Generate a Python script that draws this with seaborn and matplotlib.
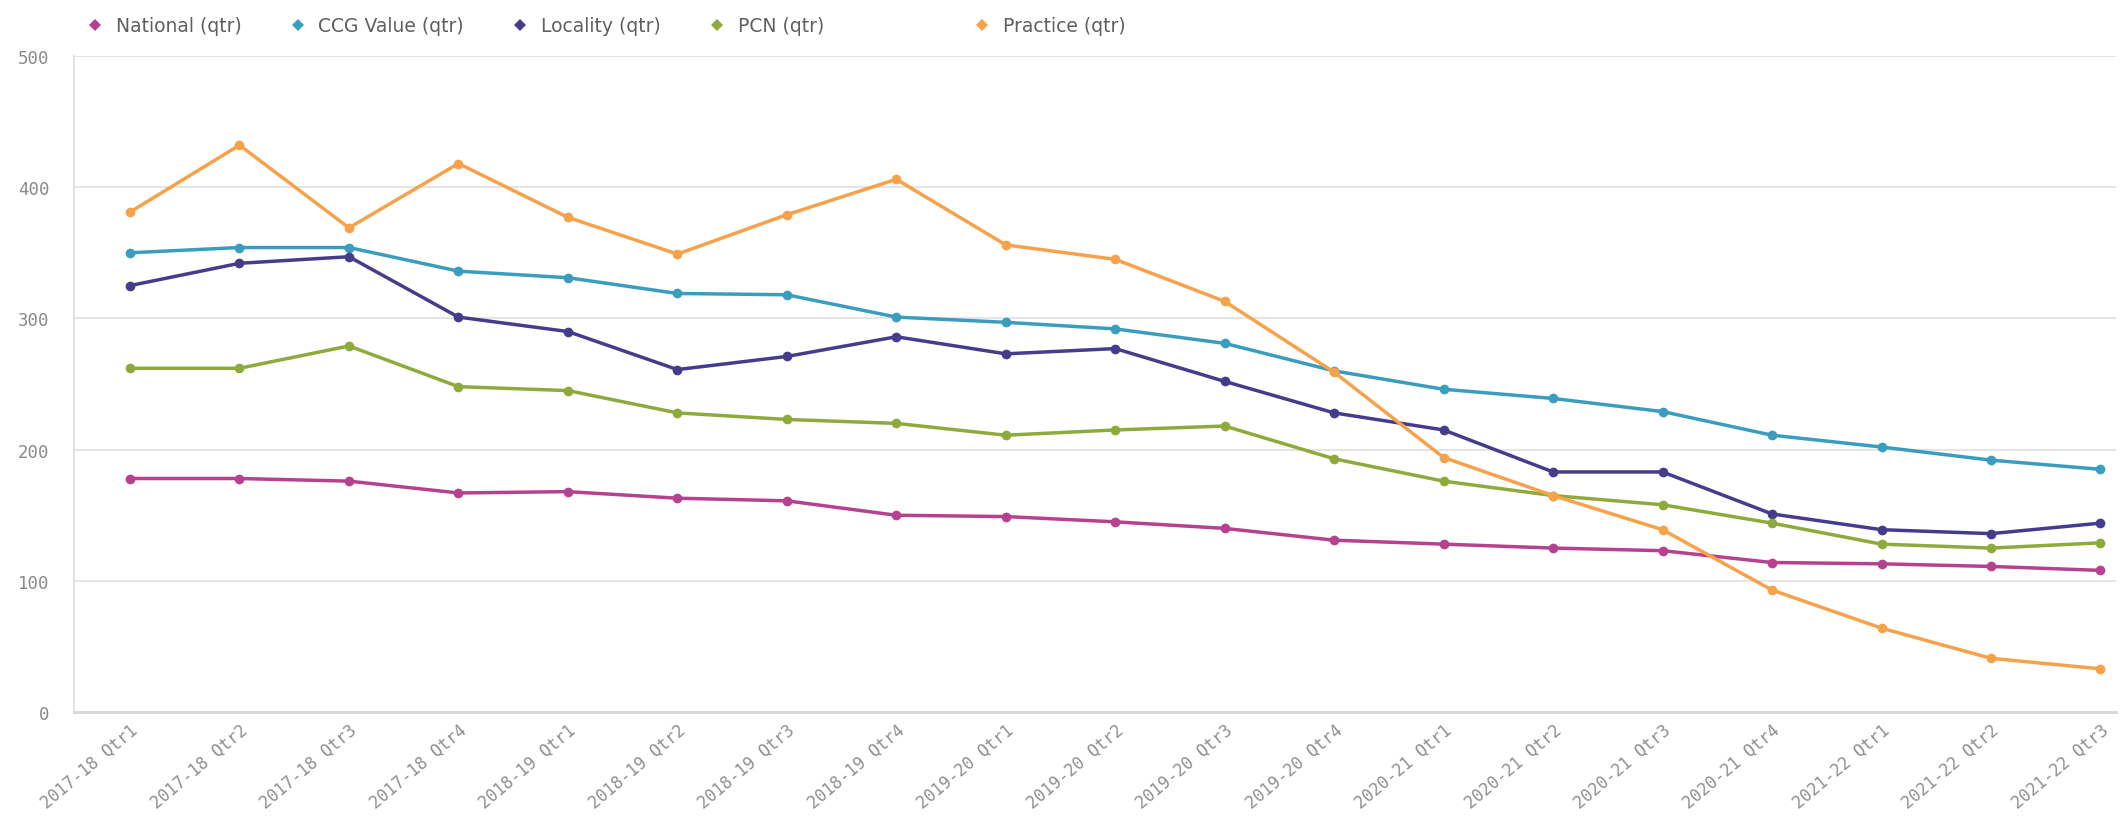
import numpy as np
import pandas as pd
import seaborn as sns
import matplotlib
matplotlib.use("Agg")
import matplotlib.pyplot as plt

quarters = ["2017-18 Qtr1", "2017-18 Qtr2", "2017-18 Qtr3", "2017-18 Qtr4",
            "2018-19 Qtr1", "2018-19 Qtr2", "2018-19 Qtr3", "2018-19 Qtr4",
            "2019-20 Qtr1", "2019-20 Qtr2", "2019-20 Qtr3", "2019-20 Qtr4",
            "2020-21 Qtr1", "2020-21 Qtr2", "2020-21 Qtr3", "2020-21 Qtr4",
            "2021-22 Qtr1", "2021-22 Qtr2", "2021-22 Qtr3"]

national = [178, 178, 176, 167, 168, 163, 161, 150, 149, 145, 140, 131, 128, 125, 123, 114, 113, 111, 108]
ccg = [350, 354, 354, 336, 331, 319, 318, 301, 297, 292, 281, 260, 246, 239, 229, 211, 202, 192, 185]
locality = [325, 342, 347, 301, 290, 261, 271, 286, 273, 277, 252, 228, 215, 183, 183, 151, 139, 136, 144]
pcn = [262, 262, 279, 248, 245, 228, 223, 220, 211, 215, 218, 193, 176, 165, 158, 144, 128, 125, 129]
practice = [381, 432, 369, 418, 377, 349, 379, 406, 356, 345, 313, 259, 194, 165, 139, 93, 64, 41, 33]

series_names = ["National (qtr)", "CCG Value (qtr)", "Locality (qtr)", "PCN (qtr)", "Practice (qtr)"]
series_values = [national, ccg, locality, pcn, practice]
colors = ["#b5418f", "#3a9dbd", "#463c8c", "#8faa3c", "#f5a24a"]

rows = []
for name, vals in zip(series_names, series_values):
    for q, v in zip(quarters, vals):
        rows.append({"Quarter": q, "Value": v, "Series": name})
df = pd.DataFrame(rows)

sns.set_theme(style="white")
plt.rcParams['font.family'] = ['DejaVu Sans']

fig = plt.figure(figsize=(21.2, 8.37), dpi=100)
ax = fig.add_axes([0.035, 0.148, 0.963, 0.784])

palette = dict(zip(series_names, colors))
sns.lineplot(data=df, x="Quarter", y="Value", hue="Series", hue_order=series_names,
             palette=palette, marker="o", markersize=7, markeredgewidth=0,
             linewidth=2.5, sort=False, ax=ax, legend=True)

ax.set_ylim(0, 500)
ax.set_xlim(-0.51, 18.14)
ax.set_yticks([0, 100, 200, 300, 400, 500])
ax.yaxis.grid(True, color="#e3e3e3", linewidth=1.3)
ax.xaxis.grid(False)
ax.set_xlabel("")
ax.set_ylabel("")
for s in ["top", "right"]:
    ax.spines[s].set_visible(False)
ax.spines["left"].set_color("#e0e0e0")
ax.spines["left"].set_linewidth(1.3)
ax.spines["bottom"].set_color("#d6d6d6")
ax.spines["bottom"].set_linewidth(2.0)

ax.tick_params(axis="y", length=14, color="#e3e3e3", width=1.3, pad=4,
               labelsize=12.5, labelcolor="#8a8a8a")
ax.tick_params(axis="x", length=0, pad=6, labelsize=12, labelcolor="#8f8f8f")
for lab in ax.get_yticklabels():
    lab.set_family("DejaVu Sans Mono")
ax.set_xticks(range(len(quarters)))
ax.set_xticklabels(quarters, rotation=40, ha="right", rotation_mode="anchor",
                   family="DejaVu Sans Mono")

handles, labels = ax.get_legend_handles_labels()
for h in handles:
    h.set_linewidth(0)
    h.set_marker("D")
    h.set_markersize(6)
ax.get_legend().remove()

leg_kw = dict(frameon=False, fontsize=13.5, handlelength=1.0, handletextpad=0.6,
              labelcolor="#5f5f5f", borderaxespad=0)
leg1 = ax.legend(handles[:4], labels[:4], ncol=4, loc="center left",
                 bbox_to_anchor=(0.002, 1.046), columnspacing=2.5, **leg_kw)
ax.add_artist(leg1)
leg2 = ax.legend(handles[4:], labels[4:], ncol=1, loc="center left",
                 bbox_to_anchor=(0.4366, 1.046), **leg_kw)

fig.savefig("out.png", dpi=100, facecolor="white")
